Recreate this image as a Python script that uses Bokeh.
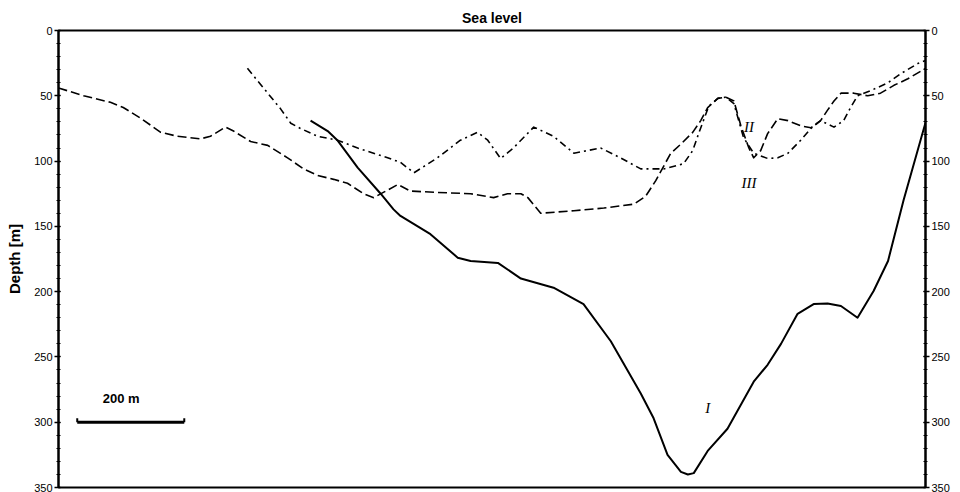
from bokeh.plotting import figure
from bokeh.models import Range1d, LinearAxis, SingleIntervalTicker
from bokeh.core.properties import value
from bokeh.embed import file_html
from bokeh.resources import INLINE

# Profile I (solid): distance [m], depth [m]
x_I = [471, 503, 521, 559, 602, 626, 639, 695, 746, 770, 821, 864, 925, 981, 1032,
       1088, 1112, 1138, 1163, 1176, 1187, 1213, 1250, 1299, 1325, 1350, 1381, 1411,
       1437, 1462, 1493, 1523, 1550, 1579, 1620]
d_I = [69, 77, 84, 105, 125, 137, 142, 156, 174, 176.5, 178, 190, 197, 209.5, 238,
       278, 297, 325, 338, 340, 339, 322, 305, 269, 256, 240, 217, 209.5,
       209, 211, 220, 199.5, 176.5, 130, 70.6]

# Profile II (dash-dot)
x_II = [353, 391, 415, 434, 452, 484, 521, 559, 615, 639, 664, 708, 751, 783, 802, 826,
        850, 888, 925, 963, 1013, 1050, 1088, 1131, 1168, 1185, 1196, 1215, 1232, 1247,
        1262, 1280, 1299, 1325, 1344, 1363, 1387, 1406, 1424, 1449, 1467, 1480, 1493,
        1518, 1550, 1574, 1607, 1620]
d_II = [29, 48, 60, 71, 75, 81, 84, 90, 97.5, 101, 109, 97.5, 84, 78, 84, 98,
        90, 74, 81, 94, 90, 97.5, 106, 106, 102, 92, 79, 58, 52, 51,
        56, 82, 94, 98, 97.5, 94, 84, 75, 69, 74, 69, 59, 50,
        46, 40, 33, 25, 23]

# Profile III (dashed)
x_III = [0, 47, 97, 121, 153, 191, 222, 265, 284, 312, 327, 359, 391, 428, 458, 484,
         514, 540, 570, 589, 607, 634, 658, 708, 770, 813, 839, 864, 877, 901, 963,
         1019, 1075, 1097, 1116, 1144, 1163, 1185, 1200, 1213, 1232, 1247, 1262, 1275,
         1290, 1299, 1312, 1325, 1344, 1363, 1387, 1406, 1424, 1437, 1449, 1462, 1486,
         1512, 1536, 1561, 1587, 1620]
d_III = [44, 50, 55, 59, 67, 78, 81, 83, 81, 74, 77, 85, 88, 97.5, 106, 111,
         114, 117, 125, 128, 124, 118, 123, 124, 125, 128, 125, 125, 128, 140, 138,
         136, 133, 127, 115, 94, 87, 78, 69, 59, 52, 51, 54, 73,
         90, 97.5, 92, 79, 67.5, 69, 73, 74.5, 69, 61, 54, 48, 48,
         50, 48, 42, 37, 29]

depth_ticks_interval = 50
x_extent = [0, 1620]
depth_extent = [350, 0]

# scale bar
scale_x0 = 35
scale_len = 200
scale_depth = 300
scale_text = "200 m"

curve_labels = ["II", "III", "I"]
label_x = [1290, 1290, 1213]
label_d = [74, 117, 289]

p = figure(width=955, height=492, x_range=Range1d(*x_extent), y_range=Range1d(*depth_extent),
           output_backend="svg", toolbar_location=None, x_axis_location=None,
           min_border_left=58, min_border_right=30, min_border_top=30, min_border_bottom=5)

p.title.text = "Sea level"
p.title.align = "center"
p.title.text_font = "Liberation Sans"
p.title.text_font_style = "bold"
p.title.text_font_size = "14px"
p.title.text_color = "black"
p.title.standoff = 10
p.title.offset = 0

p.grid.visible = False
p.outline_line_color = "black"
p.outline_line_width = 2
p.background_fill_color = "white"
p.border_fill_color = "white"

def style_axis(ax):
    ax.ticker = SingleIntervalTicker(interval=depth_ticks_interval, num_minor_ticks=5)
    ax.axis_line_color = "black"
    ax.axis_line_width = 2
    ax.major_tick_out = 4
    ax.major_tick_in = 2
    ax.minor_tick_out = 2
    ax.minor_tick_in = 2
    ax.major_tick_line_width = 1.5
    ax.minor_tick_line_width = 1
    ax.major_tick_line_color = "black"
    ax.minor_tick_line_color = "black"
    ax.major_label_text_font = "Liberation Sans"
    ax.major_label_text_font_size = "11px"
    ax.major_label_text_color = "black"
    ax.major_label_standoff = 2

style_axis(p.yaxis[0])
p.yaxis[0].axis_label = "Depth [m]"
p.yaxis[0].axis_label_text_font = "Liberation Sans"
p.yaxis[0].axis_label_text_font_style = "bold"
p.yaxis[0].axis_label_text_font_size = "15px"
p.yaxis[0].axis_label_text_color = "black"
p.yaxis[0].axis_label_standoff = 8

right = LinearAxis()
style_axis(right)
p.add_layout(right, "right")

p.line(x_III, d_III, line_color="black", line_width=1.6, line_dash="9 4", line_join="round")
p.line(x_II, d_II, line_color="black", line_width=1.6, line_dash="7 4 2 4", line_join="round")
p.line(x_I, d_I, line_color="black", line_width=2, line_join="round")

p.text(label_x, label_d, text=curve_labels, text_font=value("Liberation Serif"),
       text_font_style="italic", text_font_size="15px", text_align="center",
       text_baseline="middle", text_color="black")

p.segment(x0=[scale_x0], y0=[scale_depth], x1=[scale_x0 + scale_len], y1=[scale_depth],
          line_color="black", line_width=3)
p.segment(x0=[scale_x0, scale_x0 + scale_len], y0=[scale_depth, scale_depth],
          x1=[scale_x0, scale_x0 + scale_len], y1=[scale_depth - 3, scale_depth - 3],
          line_color="black", line_width=2)
p.text([scale_x0 + scale_len * 0.41], [scale_depth - 18], text=[scale_text],
       text_font=value("Liberation Sans"), text_font_style="bold", text_font_size="13px",
       text_align="center", text_baseline="middle", text_color="black")

open("out.html", "w").write(file_html(p, INLINE))
